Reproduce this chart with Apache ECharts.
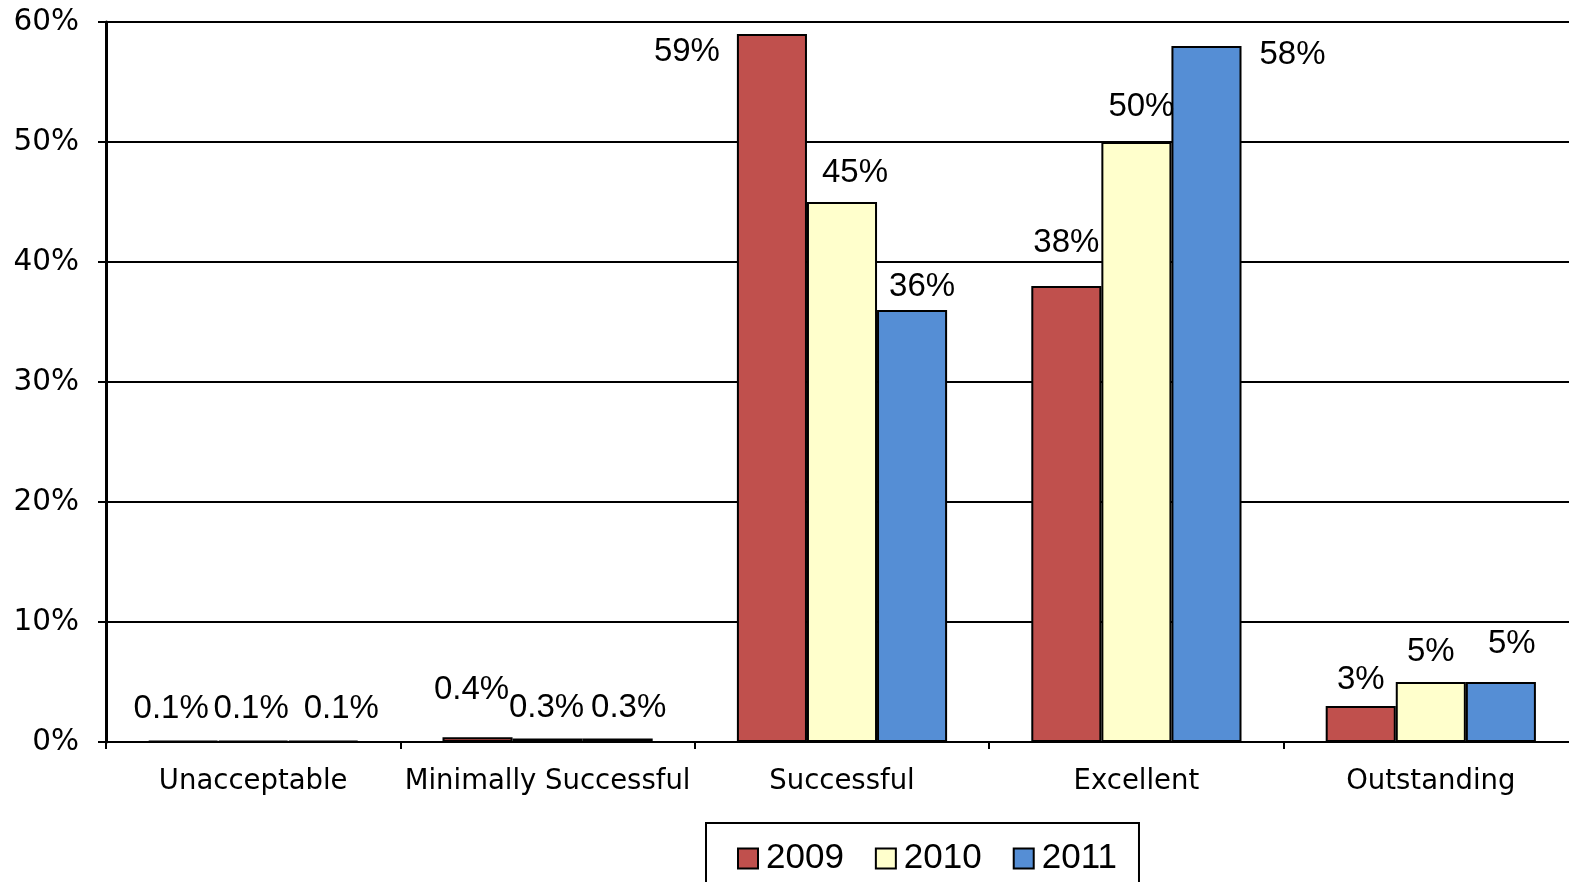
<!DOCTYPE html>
<html>
<head>
<meta charset="utf-8">
<title>Performance Ratings 2009–2011</title>
<script src="https://cdn.jsdelivr.net/npm/echarts@6/dist/echarts.min.js"></script>
<style>
  html, body { margin: 0; padding: 0; background: #ffffff; overflow: hidden; }
  #chart { width: 1600px; height: 882px; }
</style>
</head>
<body>
<div id="chart"></div>
<script>
// Rating categories and share of ratings (%) per year
const categories = ['Unacceptable', 'Minimally Successful', 'Successful', 'Excellent', 'Outstanding'];
const years = ['2009', '2010', '2011'];
const values2009 = [0.1, 0.4, 59, 38, 3];
const values2010 = [0.1, 0.3, 45, 50, 5];
const values2011 = [0.1, 0.3, 36, 58, 5];
const yTicks = [0, 10, 20, 30, 40, 50, 60];

// Label placement tweaks [dx, dy] per series, per category (pixels)
const labelNudge = [
  [[-12, -10], [-6, -26], [-85, 39], [0, -22], [0, -5]],
  [[-2, -10], [-1, -9], [13, -8], [5, -14], [0, -9]],
  [[18, -10], [11, -9], [10, -2], [86, 30], [11, -17]]
];

const colors = ['#C0504D', '#FFFFCC', '#558ED5'];
const seriesValues = [values2009, values2010, values2011];

const axisFont = 'DejaVu Sans, Verdana, sans-serif';
const bodyFont = 'Liberation Sans, Arial, sans-serif';

const fmt = v => (v < 1 ? v.toFixed(1) : String(Math.round(v))) + '%';

const series = years.map((name, s) => ({
  name: name,
  type: 'bar',
  barGap: '0%',
  barCategoryGap: '28.6%',
  itemStyle: { color: colors[s], borderColor: '#000000', borderWidth: 2 },
  label: {
    show: true,
    position: 'top',
    distance: 5,
    color: '#000000',
    fontFamily: bodyFont,
    fontSize: 33,
    lineHeight: 32,
    formatter: p => fmt(p.value)
  },
  data: seriesValues[s].map((v, i) => ({
    value: v,
    label: { offset: labelNudge[s][i] }
  }))
}));

const chart = echarts.init(document.getElementById('chart'), null, { renderer: 'canvas' });
chart.setOption({
  backgroundColor: '#ffffff',
  animation: false,
  textStyle: { fontFamily: bodyFont, color: '#000000' },
  grid: { left: 106, width: 1472, top: 22, bottom: 140, containLabel: false },
  legend: {
    data: years,
    left: 706,
    top: 823,
    orient: 'horizontal',
    padding: [18, 22, 18, 31],
    itemGap: 31,
    itemWidth: 20,
    itemHeight: 20,
    icon: 'rect',
    borderColor: '#000000',
    borderWidth: 2,
    backgroundColor: '#ffffff',
    textStyle: {
      fontSize: 35,
      lineHeight: 34,
      color: '#000000',
      fontFamily: bodyFont,
      padding: [0, 0, 0, 3]
    }
  },
  xAxis: {
    type: 'category',
    data: categories,
    axisLine: { show: true, lineStyle: { color: '#000000', width: 2 } },
    axisTick: { show: true, length: 7, lineStyle: { color: '#000000', width: 2 } },
    axisLabel: {
      interval: 0,
      margin: 26,
      fontSize: 27.5,
      color: '#000000',
      fontFamily: axisFont
    },
    splitLine: { show: false }
  },
  yAxis: {
    type: 'value',
    min: yTicks[0],
    max: yTicks[yTicks.length - 1],
    interval: yTicks[1] - yTicks[0],
    axisLine: { show: true, lineStyle: { color: '#000000', width: 3 } },
    axisTick: { show: true, length: 8, lineStyle: { color: '#000000', width: 2 } },
    axisLabel: {
      margin: 27,
      fontSize: 29.5,
      color: '#000000',
      fontFamily: axisFont,
      formatter: '{value}%'
    },
    splitLine: { show: true, lineStyle: { color: '#000000', width: 2 } }
  },
  series: series
});
</script>
</body>
</html>
